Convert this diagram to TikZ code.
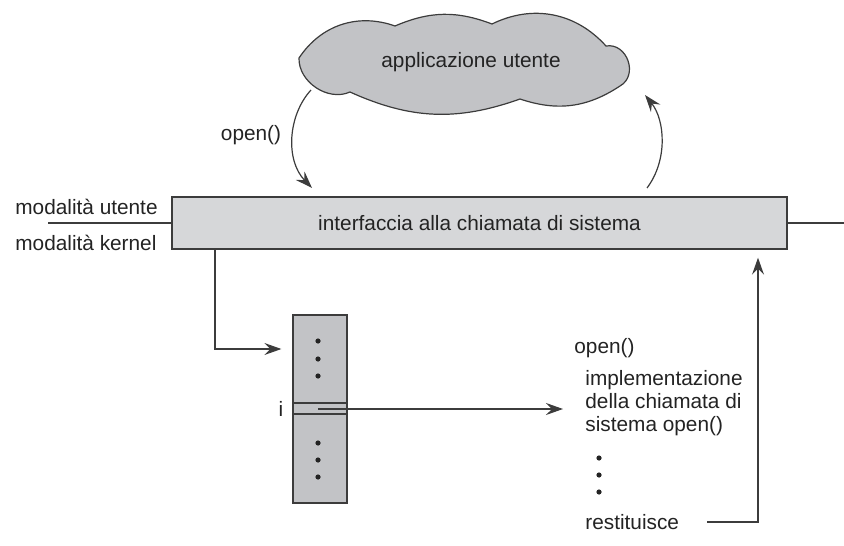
\documentclass[tikz,border=0pt]{standalone}
\usepackage{fontspec}
\setmainfont{Liberation Sans}
\usetikzlibrary{positioning,arrows.meta}
\definecolor{SysGray}{RGB}{214,215,217}
\definecolor{SysDark}{RGB}{194,195,198}
\definecolor{SysLine}{RGB}{60,60,60}
\definecolor{SysText}{RGB}{35,35,35}

\begin{document}
\begin{tikzpicture}[x=0.5pt,y=-0.5pt,font=\fontsize{10.4}{11.5}\selectfont,text=SysText,
  arr/.style={-{Stealth[length=8.5pt,width=6pt,inset=3pt]},SysLine,line width=0.6pt},
  lbl/.style={anchor=west,inner sep=0pt}]
  \useasboundingbox (0,0) rectangle (844,545);
  % user side
  \draw[SysLine,fill=SysDark,line width=0.6pt] (299,58) to[bend left=38] (395,26)
    to[bend left=22] (492,24) to[bend left=37] (606,46)
    to[bend left=80,looseness=1.3] (620,86) to[bend left=26] (520,99)
    to[bend left=22] (350,92) to[bend left=58] (299,58) -- cycle;
  \node (app) at (471,62) {applicazione utente};
  \node[draw=SysLine,fill=SysGray,line width=0.7pt,minimum width=307.5pt,minimum height=26pt,inner sep=0pt] (bar) at (479.5,223) {interfaccia alla chiamata di sistema};
  \node[lbl] (mu) at (15,207) {modalità utente};
  \node[lbl] (mk) at (15,243) {modalità kernel};
  \coordinate (ml) at (48,223);
  \coordinate (mr) at (844,223);
  \draw[SysLine,line width=0.6pt] (ml) -- (bar.west);
  \draw[SysLine,line width=0.6pt] (bar.east) -- (mr);
  \node (call) at (251,135) {open()};
  \coordinate (ca) at (311,90);
  \coordinate (cb) at (312,188);
  \coordinate (ra) at (647,188);
  \coordinate (rb) at (645,95);
  \draw[arr] (ca) .. controls (288,115) and (285,160) .. (cb);
  \draw[arr] (ra) .. controls (668,160) and (665,120) .. (rb);
  % kernel side
  \node[draw=SysLine,fill=SysDark,line width=0.6pt,minimum width=27pt,minimum height=94pt,inner sep=0pt] (tab) at (320,409) {};
  \draw[SysLine,line width=0.6pt] (293,403) -- (347,403);
  \draw[SysLine,line width=0.6pt] (293,414) -- (347,414);
  \foreach \y in {341,359,376,443,460,477}
    \fill[SysText] (318,\y) circle (1.3pt);
  \node (idx) at (281,409) {i};
  \node[lbl] (op) at (574,348) {open()};
  \node[lbl,align=left] (impl) at (585,403) {implementazione\\della chiamata di\\sistema open()};
  \foreach \y in {458,475,492}
    \fill[SysText] (599,\y) circle (1.3pt);
  \node[lbl] (ret) at (585,522) {restituisce};
  \coordinate (kin) at (215,349);
  \coordinate (tgt) at (563,409);
  \coordinate (rs) at (707,522);
  \coordinate (rx) at (758,0);
  \draw[arr] (bar.south -| kin) |- ([xshift=-5.5pt]tab.west |- kin);
  \draw[arr] ([xshift=-1pt]tab.center) -- (tgt);
  \draw[arr] (rs) -| ([yshift=-4pt]rx |- bar.south);
\end{tikzpicture}
\end{document}
